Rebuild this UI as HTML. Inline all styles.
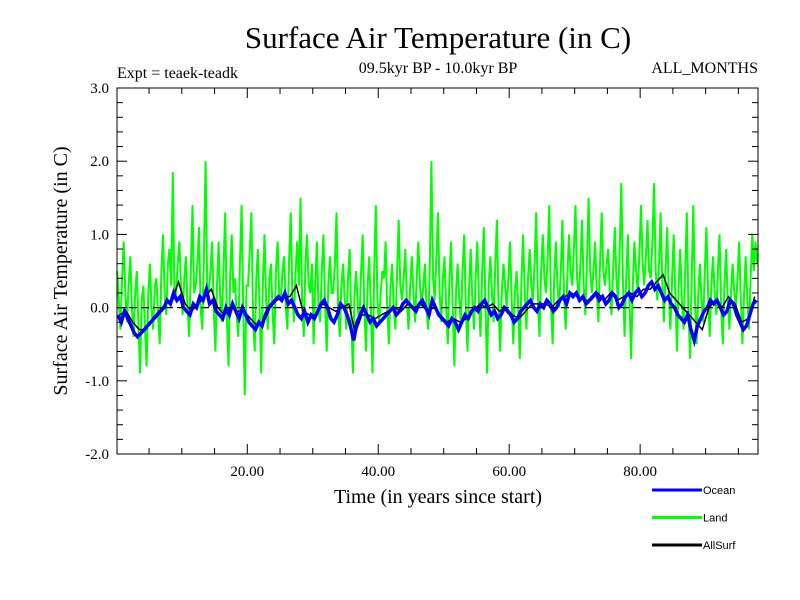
<!DOCTYPE html>
<html><head><meta charset="utf-8"><style>
body{margin:0;background:#fff}
svg{display:block}
.s{font-family:"Liberation Serif",serif;fill:#000}
.l{font-family:"Liberation Sans",sans-serif;fill:#000;font-size:11px}
</style></head><body>
<svg id="c" width="800" height="600" xmlns="http://www.w3.org/2000/svg">
<text class="s" x="438" y="48" font-size="31" text-anchor="middle">Surface Air Temperature (in C)</text>
<text class="s" x="117" y="78" font-size="16">Expt = teaek-teadk</text>
<text class="s" x="438" y="73" font-size="16" text-anchor="middle">09.5kyr BP - 10.0kyr BP</text>
<text class="s" x="758" y="73" font-size="16" text-anchor="end">ALL_MONTHS</text>
<text class="s" transform="translate(67,271) rotate(-90)" font-size="20" text-anchor="middle">Surface Air Temperature (in C)</text>
<text class="s" x="438" y="503" font-size="20" text-anchor="middle">Time (in years since start)</text>
<g id="plot"></g>
<g id="axes"></g>
<g id="legend"></g>
</svg>
<script>
const landValues=[0.5,0.1,-0.3,0.4,0.9,0.2,-0.2,0.3,0.7,0.0,-0.4,0.2,0.5,-0.2,-0.9,0.1,0.3,-0.3,-0.8,0.2,
0.6,0.0,-0.3,0.3,0.4,-0.1,-0.5,0.5,1.0,0.2,-0.1,0.6,0.8,0.3,1.85,0.1,0.2,0.6,0.9,0.3,
-0.1,0.4,0.7,0.0,-0.4,0.5,1.4,0.2,0.3,0.6,1.1,0.0,-0.3,0.7,2.0,0.3,0.2,0.5,0.9,0.0,
-0.6,0.3,0.9,0.1,-0.2,0.6,1.3,-0.1,-0.8,0.4,1.0,0.2,0.4,-0.1,-0.4,0.6,1.4,0.0,-1.2,0.3,
0.3,0.8,1.3,-0.1,-0.6,0.4,0.8,0.0,-0.9,0.3,1.0,0.1,-0.3,0.4,0.6,-0.1,-0.5,0.5,0.9,0.2,
0.1,0.5,0.7,0.0,-0.3,0.6,1.3,0.2,-0.2,0.5,0.9,0.3,1.5,0.1,-0.4,0.6,1.0,0.3,0.2,0.6,
-0.5,0.3,0.9,0.0,-0.2,0.5,1.0,0.1,-0.6,0.3,0.7,0.2,0.2,0.6,1.3,0.0,-0.4,0.3,0.6,0.1,
-0.3,0.4,0.8,-0.1,-0.9,0.2,0.5,0.0,-0.2,0.5,1.0,0.0,-0.6,0.3,0.7,0.0,-0.9,0.5,1.4,0.1,
-0.2,0.2,0.5,0.4,0.9,0.0,-0.5,0.3,0.6,0.0,-0.3,0.5,1.2,0.3,0.1,0.4,0.8,0.1,-0.3,0.3,
0.7,0.2,-0.2,0.4,0.9,0.3,0.0,0.3,0.6,0.0,-0.3,0.6,2.0,0.4,0.1,0.7,1.3,0.2,-0.2,0.4,
0.7,0.0,-0.5,0.4,0.9,0.0,-0.8,0.2,0.6,0.1,-0.2,0.5,1.0,0.0,-0.6,0.3,0.8,0.1,-0.3,0.4,
0.9,0.1,-0.4,0.5,1.1,0.0,-0.9,0.3,0.7,0.2,-0.2,0.6,1.2,0.0,-0.6,0.2,0.6,0.3,0.0,0.4,
0.9,0.1,-0.5,0.2,0.5,0.0,-0.7,0.4,1.0,0.2,-0.3,0.4,0.8,0.3,0.1,0.6,1.3,0.2,-0.4,0.5,
1.0,0.4,0.2,0.7,1.4,0.1,-0.5,0.4,0.9,0.3,0.0,0.5,1.2,0.2,-0.3,0.4,1.0,0.5,0.3,0.8,
1.4,0.4,0.1,0.6,1.2,0.3,-0.1,0.6,1.5,0.5,0.2,0.5,0.9,0.2,-0.2,0.6,1.3,0.5,0.3,0.6,
0.8,0.2,-0.1,0.5,1.1,0.4,0.1,0.8,1.7,0.3,-0.4,0.4,1.0,0.1,-0.7,0.3,0.9,0.5,0.2,0.7,
1.4,0.6,0.3,0.7,1.2,0.5,0.4,0.9,1.7,0.5,0.1,0.6,1.3,0.4,-0.2,0.5,1.1,0.2,-0.3,0.4,
1.0,0.2,-0.6,0.3,0.8,0.1,-0.3,0.5,1.3,0.0,-0.7,0.4,1.4,0.1,-0.5,0.2,0.6,0.1,-0.2,0.5,
1.1,0.2,-0.4,0.3,0.7,0.2,-0.1,0.5,1.0,0.0,-0.5,0.3,0.8,0.1,-0.3,0.2,0.6,0.2,0.0,0.4,
0.9,0.1,-0.5,0.2,0.7,0.1,-0.3,0.4,1.0,0.5,0.9,0.6];
const oceanValues=[-0.1,-0.2,-0.05,-0.15,-0.25,-0.35,-0.4,-0.35,-0.3,-0.25,
-0.2,-0.15,-0.1,-0.05,0.0,0.1,0.05,0.2,0.1,0.15,
0.0,-0.05,-0.1,0.05,0.0,0.15,0.1,0.25,0.05,0.1,
-0.05,-0.1,-0.15,0.0,-0.1,0.05,-0.05,-0.15,0.0,-0.1,
-0.2,-0.25,-0.3,-0.2,-0.25,-0.1,0.0,0.05,0.1,0.15,
0.1,0.2,0.05,0.1,0.0,-0.1,-0.15,-0.05,-0.2,-0.1,
-0.15,-0.05,0.05,0.1,0.0,-0.15,-0.2,-0.1,0.05,0.0,
-0.1,-0.25,-0.45,-0.2,-0.1,0.0,-0.1,-0.2,-0.15,-0.25,
-0.2,-0.15,-0.1,-0.05,0.0,-0.1,-0.05,0.05,0.1,0.05,
0.0,-0.05,0.05,0.1,0.0,-0.1,0.1,0.0,-0.1,-0.15,
-0.2,-0.25,-0.15,-0.2,-0.3,-0.2,-0.1,-0.15,-0.05,0.0,
-0.05,0.05,0.1,0.0,-0.1,-0.05,-0.15,-0.1,0.0,-0.05,
-0.1,-0.2,-0.15,-0.05,0.0,0.05,0.1,0.0,-0.05,0.05,
0.0,0.1,0.05,-0.05,0.0,0.1,0.15,0.05,0.2,0.15,
0.2,0.1,0.15,0.05,0.1,0.15,0.2,0.1,0.15,0.05,
0.1,0.2,0.15,0.0,0.05,0.15,0.2,0.1,0.2,0.25,
0.15,0.2,0.3,0.35,0.25,0.3,0.2,0.1,0.15,0.05,
0.0,-0.1,-0.15,-0.2,-0.1,-0.3,-0.45,-0.25,-0.15,-0.05,
0.0,0.1,0.05,0.1,0.0,-0.1,-0.05,0.1,0.05,-0.1,
-0.2,-0.3,-0.25,-0.1,0.05,0.1];
const allSurfValues=[-0.1,-0.05,-0.2,-0.3,-0.3,-0.15,-0.05,0.05,0.1,0.35,
0.05,-0.05,0.05,0.15,0.25,0.0,-0.1,0.0,-0.05,-0.05,
-0.15,-0.25,-0.2,0.0,0.1,0.15,0.15,0.3,-0.05,-0.1,
-0.1,0.05,0.0,-0.05,0.0,0.05,-0.35,-0.1,-0.1,-0.15,
-0.1,-0.05,0.0,-0.05,0.05,0.0,0.05,-0.05,0.0,-0.1,
-0.2,-0.15,-0.2,-0.15,-0.05,0.05,0.0,0.05,-0.05,0.0,
-0.1,-0.15,-0.05,0.05,0.05,0.05,0.0,0.1,0.15,0.2,
0.15,0.1,0.1,0.2,0.1,0.2,0.1,0.15,0.2,0.15,
0.25,0.25,0.35,0.45,0.2,0.1,0.0,-0.1,-0.2,-0.3,
0.0,0.1,0.0,0.15,0.05,-0.2,-0.15,0.15];
const xTickLabels=["20.00","40.00","60.00","80.00"];
const yTickLabels=["-2.0","-1.0","0.0","1.0","2.0","3.0"];
const legendNames=["Ocean","Land","AllSurf"];

const NS="http://www.w3.org/2000/svg";
const X0=117,X1=758,Y0=454,Y1=88,XMIN=0.1,XMAX=98,YMIN=-2,YMAX=3;
const xs=v=>X0+(v-XMIN)/(XMAX-XMIN)*(X1-X0);
const ys=v=>Y0-(v-YMIN)/(YMAX-YMIN)*(Y0-Y1);
function mk(tag,attrs,parent){const e=document.createElementNS(NS,tag);for(const k in attrs)e.setAttribute(k,attrs[k]);parent.appendChild(e);return e;}
const plot=document.getElementById('plot'),axes=document.getElementById('axes'),legend=document.getElementById('legend');

function series(vals,step,off,color,w,name){
  const pts=vals.map((v,i)=>xs(off+i*step).toFixed(1)+","+ys(v).toFixed(1)).join(" ");
  const p=mk('polyline',{points:pts,fill:'none',stroke:color,'stroke-width':w,'stroke-linejoin':'miter'},plot);
  
  
}
series(landValues,0.25,0.125,'#00ff00',2,'land-series');
series(allSurfValues,1,0.5,'#000000',1.5,'allsurf-series');
series(oceanValues,0.5,0.25,'#0000ff',3.5,'ocean-series');
const z=mk('line',{x1:X0,x2:X1,y1:ys(0),y2:ys(0),stroke:'#000','stroke-width':1.2,'stroke-dasharray':'8,4'},plot);



const frame=mk('rect',{x:X0,y:Y1,width:X1-X0,height:Y0-Y1,fill:'none',stroke:'#000','stroke-width':1},axes);


for(let v=-2;v<=3.001;v+=0.2){
  const major=Math.abs(v-Math.round(v))<1e-6, len=major?10:6, y=ys(v);
  mk('line',{x1:X0,x2:X0+len,y1:y,y2:y,stroke:'#000'},axes);
  mk('line',{x1:X1,x2:X1-len,y1:y,y2:y,stroke:'#000'},axes);
}
yTickLabels.forEach(t=>{
  const tx=mk('text',{x:X0-8,y:ys(parseFloat(t))+5,'text-anchor':'end','font-size':15,class:'s'},axes);
  tx.textContent=t;
  
  
});
for(let v=5;v<XMAX;v+=5){
  const major=v%20===0, len=major?10:6, x=xs(v);
  mk('line',{x1:x,x2:x,y1:Y0,y2:Y0-len,stroke:'#000'},axes);
  mk('line',{x1:x,x2:x,y1:Y1,y2:Y1+len,stroke:'#000'},axes);
}
xTickLabels.forEach(t=>{
  const tx=mk('text',{x:xs(parseFloat(t)),y:Y0+22,'text-anchor':'middle','font-size':15,class:'s'},axes);
  tx.textContent=t;
  
  
});
const lcolors=['#0000ff','#00ff00','#000000'];
legendNames.forEach((n,i)=>{
  const y=490+i*27.5;
  const g=mk('g',{},legend);
  
  
  mk('line',{x1:652,x2:702,y1:y,y2:y,stroke:lcolors[i],'stroke-width':3},g);
  const t=mk('text',{x:703,y:y+4,class:'l'},g);
  t.textContent=n;
});
</script>
</body></html>
